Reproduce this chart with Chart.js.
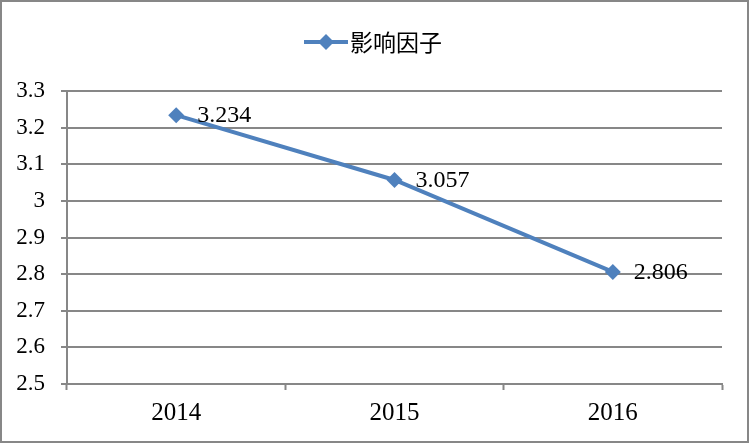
<!DOCTYPE html>
<html>
<head>
<meta charset="utf-8">
<script src="https://cdn.jsdelivr.net/npm/chart.js@4"></script>
<style>
  body { margin: 0; background: #fff; }
  #wrap { width: 749px; height: 443px; }
</style>
</head>
<body>
<div id="wrap"><canvas id="impactChart" width="749" height="443"></canvas></div>
<script>
const years = ['2014', '2015', '2016'];
const impactFactor = [3.234, 3.057, 2.806];
const seriesName = '影响因子';
const yMin = 2.5;
const yMax = 3.3;
const yStep = 0.1;

const blue = '#4F81BD';
const gray = '#878787';
const serif = '"Liberation Serif", "Times New Roman", serif';

// 外框 + 图例 + 数据标签
const excelLook = {
  id: 'excelLook',
  afterDraw(chart) {
    const ctx = chart.ctx;
    ctx.save();
    // outer border
    ctx.strokeStyle = gray;
    ctx.lineWidth = 2;
    ctx.strokeRect(1, 1, chart.width - 2, chart.height - 2);

    // legend
    const ly = 42;
    ctx.strokeStyle = blue;
    ctx.lineWidth = 4;
    ctx.beginPath();
    ctx.moveTo(304, ly);
    ctx.lineTo(348, ly);
    ctx.stroke();
    ctx.fillStyle = blue;
    ctx.beginPath();
    ctx.moveTo(326, ly - 8);
    ctx.lineTo(334, ly);
    ctx.lineTo(326, ly + 8);
    ctx.lineTo(318, ly);
    ctx.closePath();
    ctx.fill();
    ctx.fillStyle = '#000';
    ctx.font = '23px "Noto Sans CJK SC", sans-serif';
    ctx.textBaseline = 'middle';
    ctx.textAlign = 'left';
    ctx.fillText(seriesName, 350, ly);

    // data labels
    const meta = chart.getDatasetMeta(0);
    ctx.font = '24px ' + serif;
    ctx.fillStyle = '#000';
    meta.data.forEach((pt, i) => {
      ctx.fillText(impactFactor[i].toFixed(3), pt.x + 21, pt.y + 1);
    });
    ctx.restore();
  }
};

new Chart(document.getElementById('impactChart'), {
  type: 'line',
  data: {
    labels: years,
    datasets: [{
      label: seriesName,
      data: impactFactor,
      borderColor: blue,
      backgroundColor: blue,
      borderWidth: 4,
      tension: 0,
      pointStyle: 'rectRot',
      pointRadius: 8,
      pointBorderWidth: 0,
      pointBackgroundColor: blue,
    }],
  },
  options: {
    responsive: false,
    animation: false,
    layout: { padding: { top: 91, right: 27, left: 0, bottom: 0 } },
    scales: {
      x: {
        offset: true,
        afterFit: (scale) => { scale.height = 59; },
        grid: {
          offset: true,
          drawOnChartArea: false,
          drawTicks: true,
          tickLength: 6,
          tickWidth: 2,
          tickColor: gray,
        },
        border: { display: true, color: gray, width: 2 },
        ticks: {
          color: '#000',
          padding: 8,
          font: { family: serif, size: 25 },
        },
      },
      y: {
        min: yMin,
        max: yMax,
        afterFit: (scale) => { scale.width = 67; },
        grid: {
          color: gray,
          lineWidth: 2,
          tickLength: 6,
          tickColor: gray,
        },
        border: { display: true, color: gray, width: 2 },
        ticks: {
          stepSize: yStep,
          color: '#000',
          padding: 16,
          font: { family: serif, size: 23 },
          callback: (v) => Number(v.toFixed(1)).toString(),
        },
      },
    },
    plugins: {
      legend: { display: false },
      tooltip: { enabled: false },
    },
  },
  plugins: [excelLook],
});
</script>
</body>
</html>
